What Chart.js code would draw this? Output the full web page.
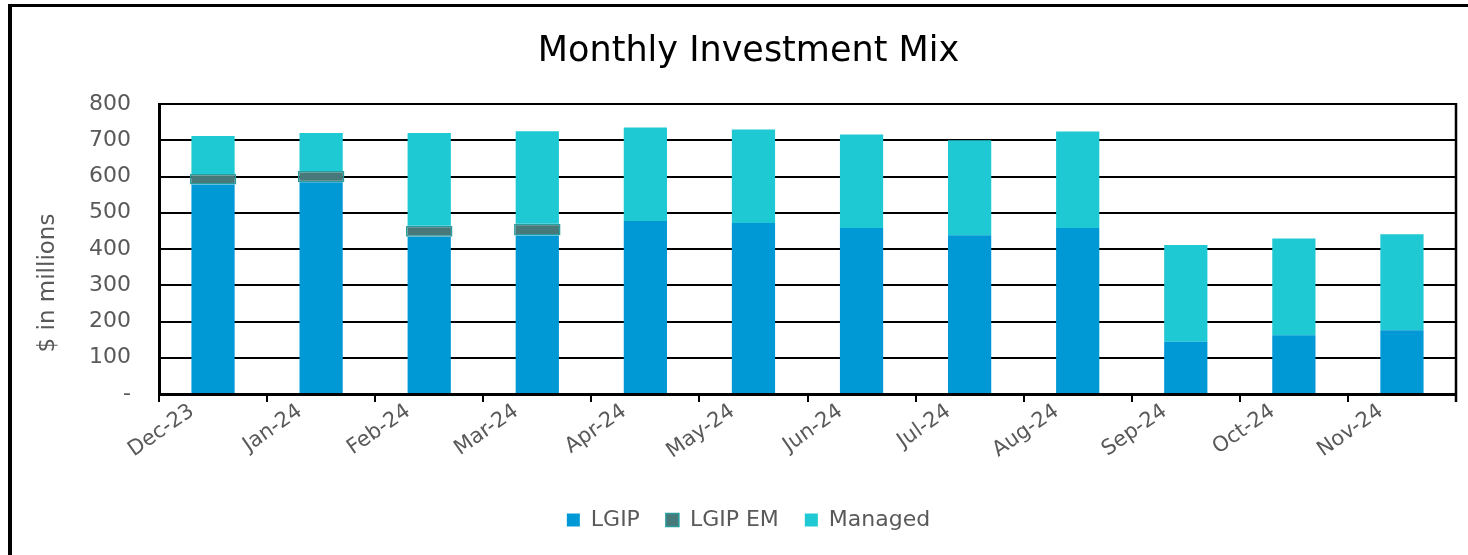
<!DOCTYPE html>
<html>
<head>
<meta charset="utf-8">
<script src="https://cdn.jsdelivr.net/npm/chart.js@4/dist/chart.umd.min.js"></script>
<style>
  html, body { margin: 0; padding: 0; background: #fff; overflow: hidden; }
  #wrap { position: relative; width: 1468px; height: 555px; }
  #frame {
    position: absolute; left: 8px; top: 4px; width: 1500px; height: 548px;
    border-top: 3px solid #000; border-left: 4px solid #000; border-bottom: 1px solid #e2e2e2;
    pointer-events: none;
  }
</style>
</head>
<body>
<div id="wrap">
  <canvas id="mixChart" width="1468" height="555"></canvas>
  <div id="frame"></div>
</div>
<script>
  // Monthly balances, $ in millions
  var months = ['Dec-23', 'Jan-24', 'Feb-24', 'Mar-24', 'Apr-24', 'May-24',
                'Jun-24', 'Jul-24', 'Aug-24', 'Sep-24', 'Oct-24', 'Nov-24'];
  var lgip    = [578, 584, 434, 437, 477, 472, 458, 438, 458, 144, 162, 176];
  var lgipEm  = [29, 31, 30, 33, null, null, null, null, null, null, null, null];
  var managed = [105, 105, 256, 255, 258, 258, 258, 262, 266, 267, 267, 265];
  var yTicks  = [0, 100, 200, 300, 400, 500, 600, 700, 800];
  var yTitle  = '$ in millions';

  var FONT = "'DejaVu Sans', sans-serif";
  var GREY = '#595959';

  // right-hand edge of the plot area + the y axis caption (sits a bit low, like the original sheet)
  var plotFrame = {
    id: 'plotFrame',
    afterDraw: function (chart) {
      var a = chart.chartArea, ctx = chart.ctx;
      ctx.save();
      ctx.strokeStyle = '#000';
      ctx.lineWidth = 2.5;
      ctx.beginPath();
      ctx.moveTo(a.right, a.top - 1);
      ctx.lineTo(a.right, a.bottom + 8);
      ctx.stroke();

      ctx.translate(48, 283);
      ctx.rotate(-Math.PI / 2);
      ctx.fillStyle = GREY;
      ctx.font = "23px " + FONT;
      ctx.textAlign = 'center';
      ctx.textBaseline = 'middle';
      ctx.fillText(yTitle, 0, 0);
      ctx.restore();
    }
  };

  var ctx = document.getElementById('mixChart').getContext('2d');
  var mixChart = new Chart(ctx, {
    type: 'bar',
    data: {
      labels: months,
      datasets: [{
        label: 'LGIP',
        data: lgip,
        backgroundColor: '#0099d6',
        barPercentage: 0.4,
        categoryPercentage: 1
      }, {
        label: 'LGIP EM',
        data: lgipEm,
        backgroundColor: '#47797a',
        borderColor: '#2a9c9e',
        borderWidth: 1.5,
        borderSkipped: false,
        barPercentage: 0.43,
        categoryPercentage: 1
      }, {
        label: 'Managed',
        data: managed,
        backgroundColor: '#1ec9d3',
        barPercentage: 0.4,
        categoryPercentage: 1
      }]
    },
    options: {
      responsive: false,
      animation: false,
      layout: { padding: { left: 41, right: 12, top: 0, bottom: 14 } },
      plugins: {
        title: {
          display: true,
          text: 'Monthly Investment Mix',
          color: '#000',
          font: { family: FONT, size: 35, weight: 'normal' },
          padding: { top: 31, bottom: 31 }
        },
        legend: {
          position: 'bottom',
          labels: {
            color: GREY,
            font: { family: FONT, size: 22 },
            boxWidth: 13,
            boxHeight: 13,
            padding: 26
          }
        },
        tooltip: { enabled: false }
      },
      scales: {
        x: {
          stacked: true,
          grid: {
            offset: true,
            drawOnChartArea: false,
            drawTicks: true,
            tickLength: 8,
            color: '#000',
            lineWidth: 2
          },
          border: { color: '#000', width: 3 },
          ticks: {
            color: GREY,
            font: { family: FONT, size: 21 },
            maxRotation: 35,
            minRotation: 35,
            padding: -3,
            labelOffset: -21
          },
          afterFit: function (scale) { scale.height = 89; }
        },
        y: {
          stacked: true,
          min: 0,
          max: 800,
          afterBuildTicks: function (scale) {
            scale.ticks = yTicks.map(function (v) { return { value: v }; });
          },
          grid: { color: '#000', lineWidth: 2, drawTicks: false },
          border: { color: '#000', width: 3 },
          ticks: {
            color: GREY,
            font: { family: FONT, size: 22 },
            padding: 28,
            callback: function (v) { return v === 0 ? '-' : v; }
          },
          afterFit: function (scale) { scale.width = 118; }
        }
      }
    },
    plugins: [plotFrame]
  });
</script>
</body>
</html>
